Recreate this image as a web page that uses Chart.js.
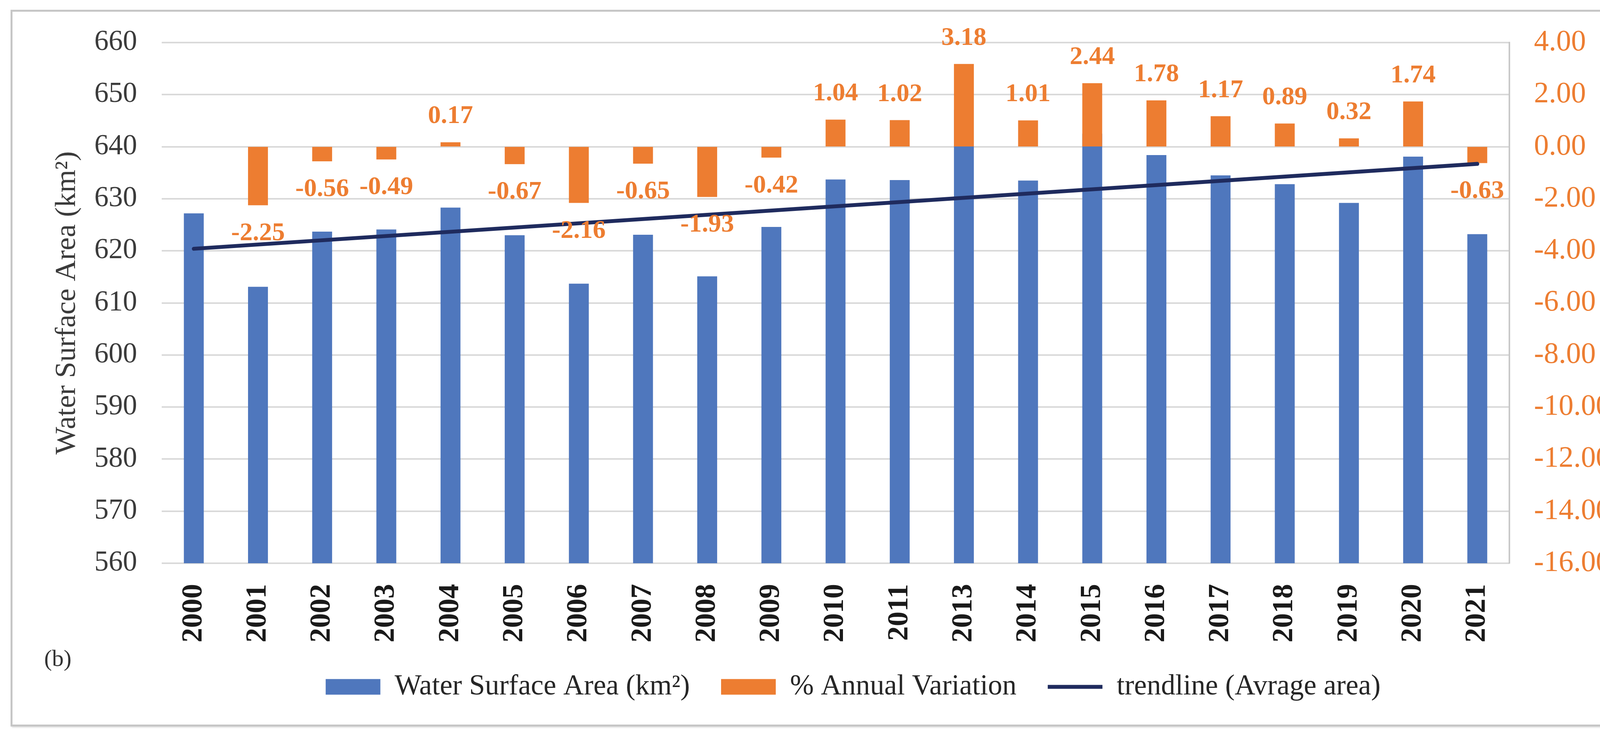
<!DOCTYPE html>
<html><head><meta charset="utf-8">
<script src="https://cdn.jsdelivr.net/npm/chart.js@4/dist/chart.umd.min.js"></script>
<style>
html,body{margin:0;padding:0;background:#fff;width:4368px;height:1892px;overflow:hidden;}
#frame{position:absolute;left:27px;top:25px;width:4312px;height:1835px;box-sizing:border-box;border:5px solid #c6c6c6;box-shadow:3px 3px 3px #e2e2e2;}
#wrap{position:absolute;left:0;top:0;width:4368px;height:1892px;}
#tag{position:absolute;left:113px;top:1650px;font-family:"Liberation Serif",serif;font-size:60px;line-height:70px;color:#333;}
</style></head><body>
<div id="frame"></div>
<div id="wrap"><canvas id="c" width="4368" height="1892"></canvas></div>
<div id="tag">(b)</div>
<script>
const years = ['2000','2001','2002','2003','2004','2005','2006','2007','2008','2009','2010','2011','2013','2014','2015','2016','2017','2018','2019','2020','2021'];
const areaValues = [627.2, 613.1, 623.7, 624.1, 628.3, 623.0, 613.7, 623.1, 615.1, 624.6, 633.7, 633.6, 647.1, 633.5, 642.5, 638.4, 634.5, 632.8, 629.2, 638.1, 623.2];
const variationValues = [null, -2.25, -0.56, -0.49, 0.17, -0.67, -2.16, -0.65, -1.93, -0.42, 1.04, 1.02, 3.18, 1.01, 2.44, 1.78, 1.17, 0.89, 0.32, 1.74, -0.63];
const trendValues = [620.4, null, null, null, null, null, null, null, null, null, null, null, null, null, null, null, null, null, null, null, 636.7];
const leftTickValues = [560, 570, 580, 590, 600, 610, 620, 630, 640, 650, 660];
const rightTickValues = [-16, -14, -12, -10, -8, -6, -4, -2, 0, 2, 4];

const BLUE = '#4f77bd', ORANGE = '#ED7D31', NAVY = '#1f2b5e';
const SERIF = '"Liberation Serif", serif';
Chart.defaults.font.family = SERIF;

const labelPlugin = {
  id: 'varLabels',
  afterDatasetsDraw(chart) {
    const ctx = chart.ctx;
    const meta = chart.getDatasetMeta(1);
    ctx.save();
    ctx.font = 'bold 66px ' + SERIF;
    ctx.fillStyle = ORANGE;
    ctx.textAlign = 'center';
    ctx.textBaseline = 'middle';
    meta.data.forEach((bar, i) => {
      const v = variationValues[i];
      if (v === null || v === undefined) return;
      const y = v >= 0 ? bar.y - 66 : bar.y + 72;
      ctx.fillText(v.toFixed(2), bar.x, y);
    });
    ctx.restore();
    // right axis title (reads bottom to top)
    const s = chart.scales.y1;
    const ca = chart.chartArea;
    ctx.save();
    ctx.translate(s.right - 167, (ca.top + ca.bottom) / 2);
    ctx.rotate(-Math.PI / 2);
    ctx.font = 'bold 80px ' + SERIF;
    ctx.fillStyle = ORANGE;
    ctx.textAlign = 'center';
    ctx.textBaseline = 'middle';
    ctx.fillText('% Annual Variation to 2000', 0, 0);
    ctx.restore();
  }
};

new Chart(document.getElementById('c'), {
  type: 'bar',
  data: {
    labels: years,
    datasets: [
      { label: 'Water Surface Area (km²)', data: areaValues, yAxisID: 'y', backgroundColor: BLUE, borderWidth: 0,
        grouped: false, barPercentage: 0.31, categoryPercentage: 1, order: 3 },
      { label: '% Annual Variation', data: variationValues, yAxisID: 'y1', backgroundColor: ORANGE, borderWidth: 0,
        grouped: false, barPercentage: 0.31, categoryPercentage: 1, order: 2 },
      { type: 'line', label: 'trendline (Avrage area)', data: trendValues, yAxisID: 'y', borderColor: NAVY,
        backgroundColor: NAVY, borderWidth: 10, pointRadius: 0, spanGaps: true, fill: false, order: 1, borderCapStyle: 'round' }
    ]
  },
  options: {
    responsive: false,
    devicePixelRatio: 1,
    animation: false,
    layout: { padding: { top: 109, left: 0, right: 0, bottom: 87 } },
    plugins: {
      tooltip: { enabled: false },
      legend: {
        position: 'bottom',
        labels: {
          usePointStyle: true,
          pointStyleWidth: 140,
          boxHeight: 40,
          padding: 80,
          color: '#262626',
          font: { size: 73 },
          sort: (a, b) => a.datasetIndex - b.datasetIndex,
          generateLabels(chart) {
            const items = Chart.defaults.plugins.legend.labels.generateLabels(chart);
            items.forEach(it => {
              if (it.datasetIndex === 2) { it.pointStyle = 'line'; it.lineWidth = 10; it.strokeStyle = NAVY; }
              else { it.pointStyle = 'rect'; it.lineWidth = 0; it.strokeStyle = it.fillStyle; }
            });
            return items;
          }
        }
      }
    },
    scales: {
      x: {
        type: 'category',
        offset: true,
        grid: { display: false },
        border: { display: false },
        ticks: { autoSkip: false, minRotation: 90, maxRotation: 90, padding: 45, color: '#1a1a1a', font: { size: 75, weight: 'bold' } },
        afterFit(scale) { scale.height = 200; }
      },
      y: {
        position: 'left',
        min: leftTickValues[0],
        max: leftTickValues[leftTickValues.length - 1],
        afterBuildTicks(scale) { scale.ticks = leftTickValues.map(v => ({ value: v })); },
        grid: { color: '#d9d9d9', lineWidth: 4, drawTicks: false },
        border: { display: false },
        ticks: { padding: 63, color: '#3b3b3b', font: { size: 73 } },
        title: { display: true, text: 'Water Surface Area (km²)', color: '#3b3b3b', font: { size: 75 }, padding: { top: 127, bottom: 0 } },
        afterFit(scale) { scale.width = 414; }
      },
      y1: {
        position: 'right',
        min: rightTickValues[0],
        max: rightTickValues[rightTickValues.length - 1],
        afterBuildTicks(scale) { scale.ticks = rightTickValues.map(v => ({ value: v })); },
        grid: { drawOnChartArea: false, drawTicks: false },
        border: { display: true, color: '#c8c8c8', width: 4 },
        ticks: { padding: 63, color: ORANGE, font: { size: 76 }, callback: v => Number(v).toFixed(2) },
        afterFit(scale) { scale.width = 504; }
      }
    }
  },
  plugins: [labelPlugin]
});
</script>
</body></html>
